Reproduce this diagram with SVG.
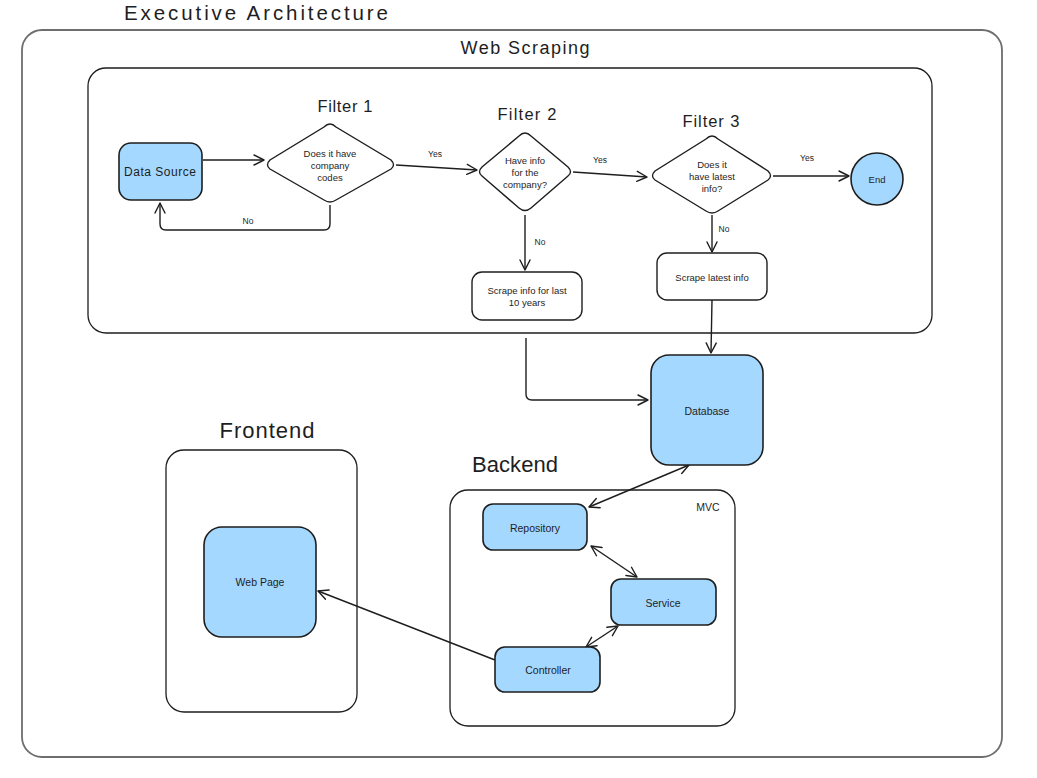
<svg xmlns="http://www.w3.org/2000/svg" width="1037" height="778" viewBox="0 0 1037 778">
<defs>
<marker id="arr" viewBox="0 0 12 12" refX="11" refY="6" markerWidth="12" markerHeight="12" markerUnits="userSpaceOnUse" orient="auto-start-reverse">
<path d="M1,1 L11,6 L1,11" fill="none" stroke="#1e1e1e" stroke-width="1.4" stroke-linecap="round" stroke-linejoin="round"/>
</marker>
<style>
text{font-family:"Liberation Sans","DejaVu Sans",sans-serif;fill:#1e1e1e;text-anchor:middle;dominant-baseline:central}
.frame{fill:none;stroke:#1e1e1e;stroke-width:1.3}
.outer{fill:none;stroke:#6e6e6e;stroke-width:1.8}
.blue{fill:#a5d8ff;stroke:#1e1e1e;stroke-width:1.6}
.white{fill:#ffffff;stroke:#1e1e1e;stroke-width:1.4}
.edge{fill:none;stroke:#1e1e1e;stroke-width:1.4;marker-end:url(#arr)}
.edge2{fill:none;stroke:#1e1e1e;stroke-width:1.4;marker-end:url(#arr);marker-start:url(#arr)}
.t-title{font-size:22px}
.t-sec{font-size:18px}
.t-filt{font-size:16.5px}
.t-node{font-size:12px}
.t-small{font-size:9.5px}
.t-mid{font-size:10.5px}
.t-lbl{font-size:8.5px}
</style>
</defs>

<g id="titles">
<text x="256" y="12.5" style="font-size:20.5px" textLength="264" lengthAdjust="spacing">Executive Architecture</text>
</g>

<g id="outer-frame">
<rect class="outer" x="22" y="30" width="980" height="727" rx="20"/>
<text class="t-sec" x="525" y="48" textLength="129" lengthAdjust="spacing">Web Scraping</text>
</g>

<g id="web-scraping">
<rect class="frame" x="88" y="68" width="844" height="265" rx="18"/>
</g>

<g id="connectors">
<path class="edge" d="M203,160 L264,160"/>
<path class="edge" d="M330,205 L330,224 Q330,230 324,230 L166,230 Q160,230 160,224 L160,203"/>
<path class="edge" d="M396,165 L477,170"/>
<path class="edge" d="M573,172 L647,177"/>
<path class="edge" d="M773,176 L849,176"/>
<path class="edge" d="M525,215 L525,270"/>
<path class="edge" d="M712,215 L712,252"/>
<path class="edge" d="M712,300 L711,353"/>
<path class="edge" d="M526,338 L526,394 Q526,400 532,400 L648,400"/>
<path class="edge2" d="M589,507 L689,465"/>
<path class="edge2" d="M591,546 L637,577"/>
<path class="edge2" d="M586,647 L618,626"/>
<path class="edge" d="M495,660 L318,591"/>
<text class="t-lbl" x="248" y="221">No</text>
<text class="t-lbl" x="435" y="154">Yes</text>
<text class="t-lbl" x="600" y="160">Yes</text>
<text class="t-lbl" x="807" y="158">Yes</text>
<text class="t-lbl" x="540" y="242">No</text>
<text class="t-lbl" x="724" y="229">No</text>
</g>

<g id="data-source">
<rect class="blue" x="119" y="143" width="83" height="57" rx="12"/>
<text class="t-node" x="160" y="172" textLength="72" lengthAdjust="spacing">Data Source</text>
</g>

<g id="filter-1">
<text class="t-filt" x="345" y="106" textLength="55" lengthAdjust="spacing">Filter 1</text>
<path class="white" d="M330,124 Q333,124 336,127 L391,160 Q396,165 391,169 L336,200 Q330,204 324,200 L270,169 Q265,165 270,160 L324,127 Q327,124 330,124 Z"/>
<text class="t-small" x="330" y="153">Does it have</text>
<text class="t-small" x="330" y="165">company</text>
<text class="t-small" x="330" y="177">codes</text>
</g>

<g id="filter-2">
<text class="t-filt" x="527" y="114" textLength="59" lengthAdjust="spacing">Filter 2</text>
<path class="white" d="M525,133 Q528,133 531,136 L568,167 Q573,172 568,176 L531,208 Q525,213 519,208 L482,176 Q477,172 482,167 L519,136 Q522,133 525,133 Z"/>
<text class="t-small" x="525" y="160">Have info</text>
<text class="t-small" x="525" y="172">for the</text>
<text class="t-small" x="525" y="184">company?</text>
</g>

<g id="filter-3">
<text class="t-filt" x="711" y="121" textLength="57" lengthAdjust="spacing">Filter 3</text>
<path class="white" d="M712,136 Q715,136 718,139 L768,171 Q773,176 768,180 L718,211 Q712,215 706,211 L655,180 Q650,176 655,171 L706,139 Q709,136 712,136 Z"/>
<text class="t-small" x="712" y="164">Does it</text>
<text class="t-small" x="712" y="176">have latest</text>
<text class="t-small" x="712" y="188">info?</text>
</g>

<g id="end">
<circle class="blue" cx="877" cy="179" r="26"/>
<text class="t-small" x="877" y="179">End</text>
</g>

<g id="scrape-10">
<rect class="white" x="472" y="272" width="110" height="48" rx="10"/>
<text class="t-small" x="527" y="290">Scrape info for last</text>
<text class="t-small" x="527" y="302">10 years</text>
</g>

<g id="scrape-latest">
<rect class="white" x="657" y="253" width="110" height="47" rx="10"/>
<text class="t-small" x="712" y="277">Scrape latest info</text>
</g>

<g id="database">
<rect class="blue" x="651" y="355" width="112" height="110" rx="18"/>
<text class="t-mid" x="707" y="411">Database</text>
</g>

<g id="frontend">
<text class="t-title" x="267" y="430" textLength="95" lengthAdjust="spacing">Frontend</text>
<rect class="frame" x="166" y="450" width="191" height="262" rx="18"/>
</g>

<g id="web-page">
<rect class="blue" x="204" y="527" width="112" height="110" rx="18"/>
<text class="t-mid" x="260" y="582">Web Page</text>
</g>

<g id="backend">
<text class="t-title" x="515" y="464" textLength="86" lengthAdjust="spacing">Backend</text>
<rect class="frame" x="450" y="490" width="285" height="236" rx="18"/>
<text class="t-mid" x="708" y="507">MVC</text>
</g>

<g id="repository">
<rect class="blue" x="483" y="504" width="104" height="46" rx="10"/>
<text class="t-mid" x="535" y="528">Repository</text>
</g>

<g id="service">
<rect class="blue" x="611" y="579" width="105" height="46" rx="10"/>
<text class="t-mid" x="663" y="603">Service</text>
</g>

<g id="controller">
<rect class="blue" x="495" y="647" width="105" height="45" rx="10"/>
<text class="t-mid" x="548" y="670">Controller</text>
</g>
</svg>
